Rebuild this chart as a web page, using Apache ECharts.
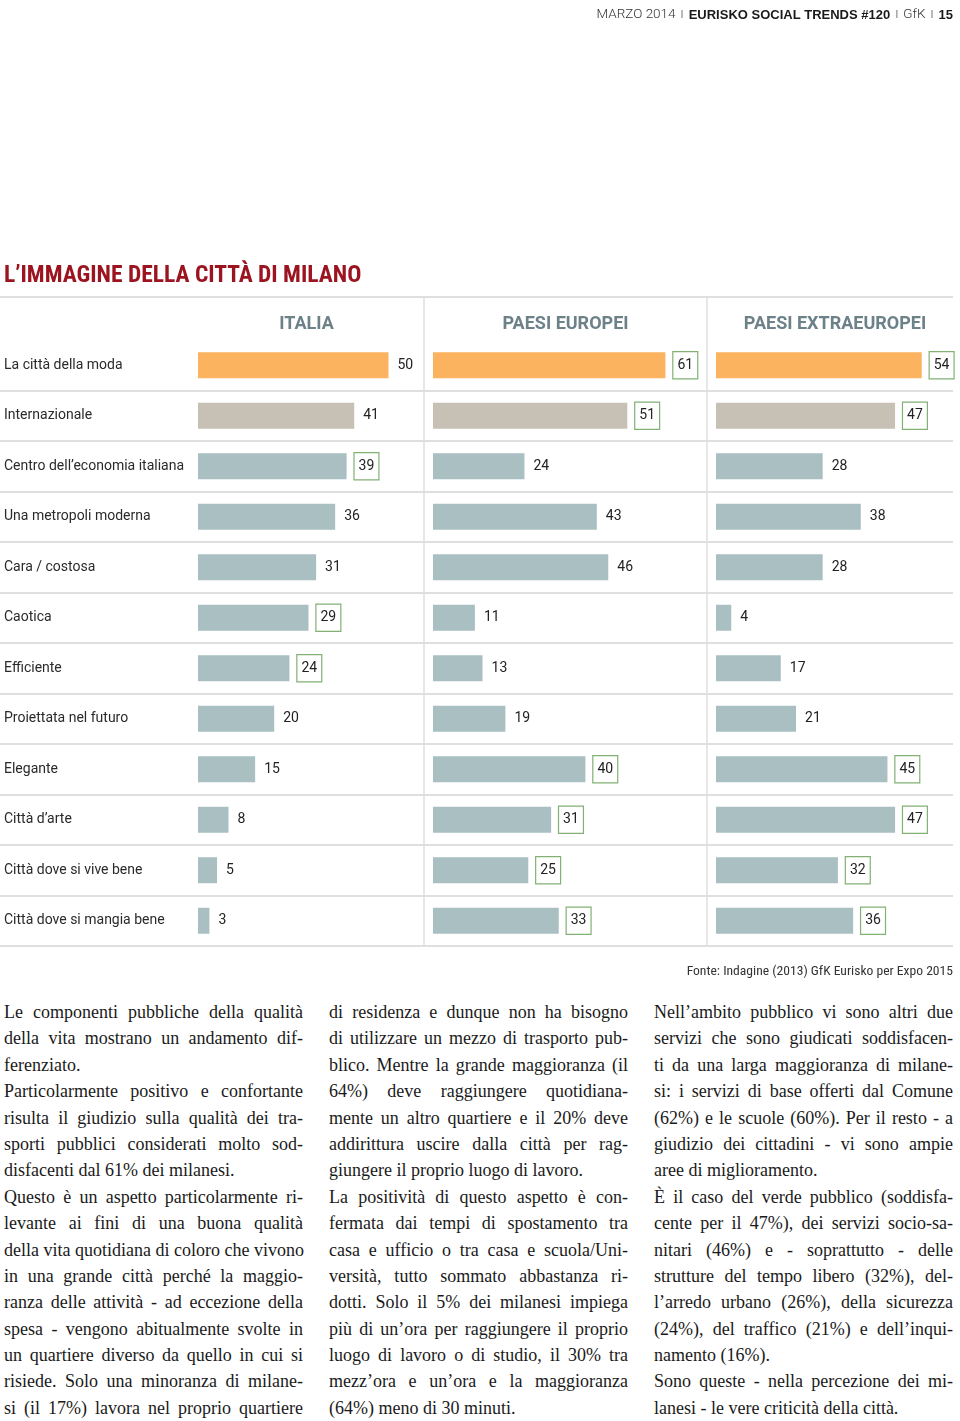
<!DOCTYPE html>
<html><head><meta charset="utf-8">
<script src="https://cdn.jsdelivr.net/npm/echarts/dist/echarts.min.js"></script>
<style>
html,body{margin:0;padding:0;background:#fff;}
#chart{position:absolute;left:0;top:0;width:960px;height:990px;}
.col{position:absolute;top:999px;width:299px;font-family:"Liberation Serif","DejaVu Serif",serif;font-size:18px;color:#1a1a1a;}
.col div{height:26.4px;line-height:26.4px;white-space:nowrap;text-align:justify;text-align-last:justify;}
.col div.e{text-align-last:left;}
</style></head>
<body>
<div id="chart"></div>
<div class="col" style="left:4px">
<div>Le componenti pubbliche della qualità</div>
<div>della vita mostrano un andamento dif-</div>
<div class="e">ferenziato.</div>
<div>Particolarmente positivo e confortante</div>
<div>risulta il giudizio sulla qualità dei tra-</div>
<div>sporti pubblici considerati molto sod-</div>
<div class="e">disfacenti dal 61% dei milanesi.</div>
<div>Questo è un aspetto particolarmente ri-</div>
<div>levante ai fini di una buona qualità</div>
<div>della vita quotidiana di coloro che vivono</div>
<div>in una grande città perché la maggio-</div>
<div>ranza delle attività - ad eccezione della</div>
<div>spesa - vengono abitualmente svolte in</div>
<div>un quartiere diverso da quello in cui si</div>
<div>risiede. Solo una minoranza di milane-</div>
<div>si (il 17%) lavora nel proprio quartiere</div>
</div>
<div class="col" style="left:329px">
<div>di residenza e dunque non ha bisogno</div>
<div>di utilizzare un mezzo di trasporto pub-</div>
<div>blico. Mentre la grande maggioranza (il</div>
<div>64%) deve raggiungere quotidiana-</div>
<div>mente un altro quartiere e il 20% deve</div>
<div>addirittura uscire dalla città per rag-</div>
<div class="e">giungere il proprio luogo di lavoro.</div>
<div>La positività di questo aspetto è con-</div>
<div>fermata dai tempi di spostamento tra</div>
<div>casa e ufficio o tra casa e scuola/Uni-</div>
<div>versità, tutto sommato abbastanza ri-</div>
<div>dotti. Solo il 5% dei milanesi impiega</div>
<div>più di un’ora per raggiungere il proprio</div>
<div>luogo di lavoro o di studio, il 30% tra</div>
<div>mezz’ora e un’ora e la maggioranza</div>
<div class="e">(64%) meno di 30 minuti.</div>
</div>
<div class="col" style="left:654px">
<div>Nell’ambito pubblico vi sono altri due</div>
<div>servizi che sono giudicati soddisfacen-</div>
<div>ti da una larga maggioranza di milane-</div>
<div>si: i servizi di base offerti dal Comune</div>
<div>(62%) e le scuole (60%). Per il resto - a</div>
<div>giudizio dei cittadini - vi sono ampie</div>
<div class="e">aree di miglioramento.</div>
<div>È il caso del verde pubblico (soddisfa-</div>
<div>cente per il 47%), dei servizi socio-sa-</div>
<div>nitari (46%) e - soprattutto - delle</div>
<div>strutture del tempo libero (32%), del-</div>
<div>l’arredo urbano (26%), della sicurezza</div>
<div>(24%), del traffico (21%) e dell’inqui-</div>
<div class="e">namento (16%).</div>
<div>Sono queste - nella percezione dei mi-</div>
<div class="e">lanesi - le vere criticità della città.</div>
</div>
<script>
// ---- data ----
const categories = ['La città della moda','Internazionale','Centro dell’economia italiana','Una metropoli moderna','Cara / costosa','Caotica','Efficiente','Proiettata nel futuro','Elegante','Città d’arte','Città dove si vive bene','Città dove si mangia bene'];
const panelTitles = ['ITALIA','PAESI EUROPEI','PAESI EXTRAEUROPEI'];
const italia   = [50,41,39,36,31,29,24,20,15,8,5,3];
const europei  = [61,51,24,43,46,11,13,19,40,31,25,33];
const extra    = [54,47,28,38,28,4,17,21,45,47,32,36];
const boxItalia  = [0,0,1,0,0,1,1,0,0,0,0,0];
const boxEuropei = [1,1,0,0,0,0,0,0,1,1,1,1];
const boxExtra   = [1,1,0,0,0,0,0,0,1,1,1,1];
const chartTitle = 'L’IMMAGINE DELLA CITTÀ DI MILANO';
const sourceText = 'Fonte: Indagine (2013) GfK Eurisko per Expo 2015';

const FONT = 'Roboto, "Liberation Sans", sans-serif';
const COND = '"Roboto Condensed", "DejaVu Sans Condensed", Roboto, sans-serif';
const CAT_COLORS = ['#fbb35f','#c7c0b4'];
const BASE = '#a9bfc2';
const LINE = '#dfdfdf';
const grids = [
  {left:198, width:228.6, max:60, titleX:301.5},
  {left:433, width:266.7, max:70, titleX:560.5},
  {left:716, width:228.6, max:60, titleX:830}
];
const TOP = 340, H = 606;
const values = [italia, europei, extra];
const boxes = [boxItalia, boxEuropei, boxExtra];

const chart = echarts.init(document.getElementById('chart'), null, {renderer:'canvas'});
const option = {
  animation:false,
  title: [
    {text: chartTitle, left: -1, top: 259, textStyle:{fontFamily:COND, fontWeight:'bold', fontSize:23.5, color:'#9b1420'}},
    {text: '{l|MARZO 2014} {s|I} {b|EURISKO SOCIAL TRENDS #120} {s|I} {l|GfK} {s|I} {b|15}', right: 2, top: 1,
      textStyle:{rich:{
        l:{fontFamily:'Roboto, sans-serif', fontWeight:300, fontSize:13.5, color:'#333'},
        b:{fontFamily:'"Liberation Sans", sans-serif', fontSize:13, fontWeight:'bold', color:'#1a1a1a'},
        s:{fontFamily:'"Liberation Sans", sans-serif', fontSize:11, color:'#aaa'}
      }}},
    {text: sourceText, right: 2, top: 960, textStyle:{fontFamily:COND, fontSize:13.6, fontWeight:'normal', color:'#333'}}
  ].concat(panelTitles.map((t,i)=>({
    text:t, left: grids[i].titleX, top: 310, textAlign:'center',
    textStyle:{fontFamily:FONT, fontWeight:'bold', fontSize:18, color:'#6d8189'}
  }))),
  grid: grids.map(g=>({left:g.left, width:g.width, top:TOP, height:H})).concat([{left:0, width:953, top:TOP, height:H}]),
  xAxis: grids.map((g,i)=>({gridIndex:i, type:'value', min:0, max:g.max, show:false})).concat([{gridIndex:3, type:'value', show:false}]),
  yAxis: grids.map((g,i)=>({
    gridIndex:i, type:'category', data:categories, inverse:true,
    axisLine:{show:false}, axisTick:{show:false}, splitLine:{show:false},
    axisLabel:{show:i===0, align:'left', margin:194, fontFamily:FONT, fontSize:14, color:'#2a2a2a'}
  })).concat([{
    gridIndex:3, type:'category', data:categories, inverse:true,
    axisLine:{show:false}, axisTick:{show:false}, axisLabel:{show:false},
    splitLine:{show:true, interval:(idx)=>idx!==0, lineStyle:{color:LINE, width:2}}
  }]),
  series: values.map((vals,i)=>({
    type:'bar', xAxisIndex:i, yAxisIndex:i, barWidth:26,
    data: vals.map((v,k)=>({
      value:v,
      itemStyle:{color: k < CAT_COLORS.length ? CAT_COLORS[k] : BASE},
      label: boxes[i][k] ? {
        show:true, position:'right', distance:8,
        fontFamily:FONT, fontSize:14, color:'#222',
        padding:[7,4,5,4],
        borderColor:'#82b174', borderWidth:1.2, backgroundColor:'#fff'
      } : {
        show:true, position:'right', distance:9,
        fontFamily:FONT, fontSize:14, color:'#222',
        padding:[7,0,5,0]
      }
    }))
  })),
  graphic: [
    {type:'line', shape:{x1:0,y1:297,x2:953,y2:297}, style:{stroke:LINE, lineWidth:2}},
    {type:'line', shape:{x1:424,y1:297,x2:424,y2:946}, style:{stroke:LINE, lineWidth:1.5}},
    {type:'line', shape:{x1:707,y1:297,x2:707,y2:946}, style:{stroke:LINE, lineWidth:1.5}}
  ]
};
chart.setOption(option);
</script>
</body></html>
